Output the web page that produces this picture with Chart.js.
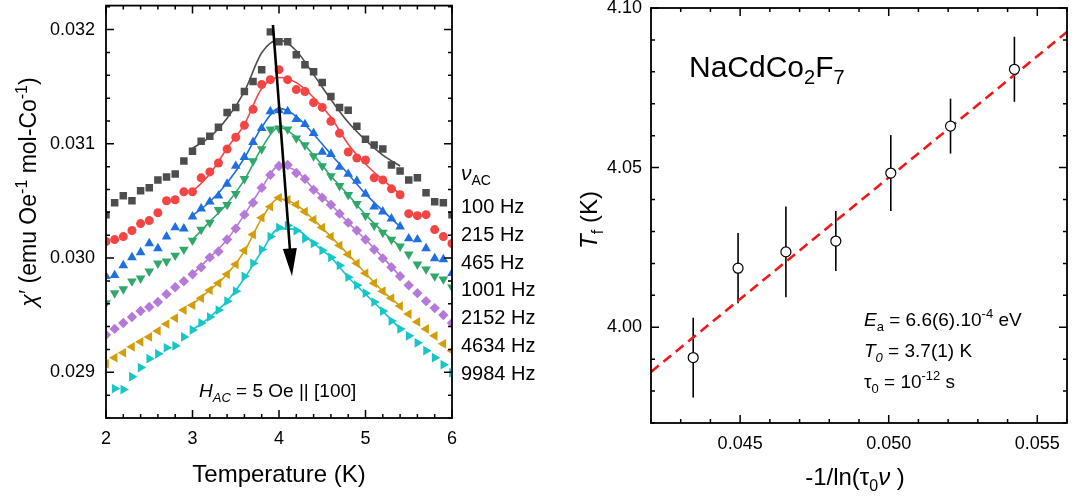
<!DOCTYPE html>
<html>
<head>
<meta charset="utf-8">
<script src="https://cdn.jsdelivr.net/npm/chart.js@4.4.1/dist/chart.umd.min.js"></script>
<style>
  body { margin: 0; background: #fff; width: 1075px; height: 497px; overflow: hidden; position: relative; }
  #left { position: absolute; left: 0; top: 0; }
  #right { position: absolute; left: 560px; top: 0; }
</style>
</head>
<body>
<canvas id="left" width="560" height="497"></canvas>
<canvas id="right" width="515" height="497"></canvas>
<script>
// ---- left panel: chi' vs T for each frequency ----
var temps = [2.0,2.1,2.2,2.3,2.4,2.5,2.6,2.7,2.8,2.9,3.0,3.1,3.2,3.3,3.4,3.5,3.6,3.7,3.8,3.9,4.0,
             4.1,4.2,4.3,4.4,4.5,4.6,4.7,4.8,4.9,5.0,5.1,5.2,5.3,5.4,5.5,5.6,5.7,5.8,5.9,6.0];

var chi100 = [0.030380,0.030484,0.030545,0.030502,0.030589,0.030615,0.030684,0.030710,0.030736,0.030849,0.030936,
              0.031023,0.031067,0.031145,0.031275,0.031319,0.031458,0.031545,0.031649,0.031980,0.031893,
              0.031893,0.031780,0.031693,0.031632,0.031536,0.031415,0.031319,0.031293,0.031154,0.031041,
              0.030989,0.030954,0.030815,0.030762,0.030684,0.030702,0.030571,0.030493,0.030484,0.030380];
var chi215 = [0.030145,0.030162,0.030188,0.030241,0.030302,0.030328,0.030397,0.030502,0.030510,0.030580,0.030580,
              0.030702,0.030754,0.030832,0.030954,0.031058,0.031162,0.031302,0.031519,0.031562,0.031649,
              0.031562,0.031475,0.031458,0.031362,0.031319,0.031197,0.031093,0.030928,0.030876,0.030858,
              0.030702,0.030684,0.030606,0.030554,0.030389,0.030371,0.030380,0.030249,0.030188,0.030128];
var chi465 = [0.029841,0.029849,0.029936,0.030006,0.030049,0.030128,0.030084,0.030188,0.030267,0.030258,0.030362,
              0.030432,0.030493,0.030545,0.030649,0.030806,0.030884,0.031015,0.031136,0.031284,0.031293,
              0.031284,0.031215,0.031171,0.031093,0.030928,0.030910,0.030797,0.030736,0.030675,0.030562,
              0.030449,0.030406,0.030345,0.030275,0.030171,0.030162,0.030084,0.029997,0.029988,0.029867];
var chi1001 = [0.029606,0.029693,0.029728,0.029797,0.029823,0.029884,0.029954,0.029971,0.030023,0.030075,0.030154,
               0.030249,0.030310,0.030423,0.030467,0.030562,0.030693,0.030849,0.030954,0.031128,0.031136,
               0.031128,0.031049,0.030989,0.030893,0.030806,0.030719,0.030632,0.030554,0.030475,0.030371,
               0.030284,0.030223,0.030162,0.030102,0.030032,0.029945,0.029902,0.029841,0.029815,0.029745];
var chi2152 = [0.029328,0.029380,0.029432,0.029484,0.029536,0.029571,0.029615,0.029684,0.029745,0.029797,0.029858,
               0.029919,0.030006,0.030058,0.030162,0.030258,0.030380,0.030484,0.030615,0.030728,0.030806,
               0.030815,0.030745,0.030693,0.030597,0.030528,0.030467,0.030389,0.030310,0.030241,0.030162,
               0.030075,0.029997,0.029919,0.029841,0.029762,0.029693,0.029623,0.029562,0.029502,0.029432];
var chi4634 = [0.029075,0.029128,0.029171,0.029223,0.029267,0.029310,0.029362,0.029423,0.029475,0.029545,0.029588,
               0.029649,0.029719,0.029780,0.029858,0.029945,0.030067,0.030206,0.030354,0.030449,0.030528,
               0.030510,0.030467,0.030406,0.030336,0.030267,0.030188,0.030110,0.030032,0.029954,0.029867,
               0.029780,0.029710,0.029649,0.029580,0.029510,0.029441,0.029380,0.029319,0.029249,0.029189];
var chi9984 = [null,0.028858,0.028849,0.028962,0.029041,0.029119,0.029162,0.029215,0.029232,0.029310,0.029371,
               0.029432,0.029484,0.029545,0.029623,0.029710,0.029841,0.029954,0.030075,0.030188,0.030267,
               0.030284,0.030241,0.030171,0.030128,0.030067,0.030006,0.029936,0.029832,0.029762,0.029693,
               0.029615,0.029536,0.029449,0.029380,0.029319,0.029258,0.029189,0.029128,0.029067,0.028997];

// fitted curves
var fitTemps = [3.0,3.2,3.4,3.6,3.8,4.0,4.2,4.4,4.6,4.8,5.0,5.2,5.4];
var fit100  = [0.030962,0.031058,0.031223,0.031458,0.031797,0.031910,0.031815,0.031606,0.031388,0.031188,0.031032,0.030902,0.030806];
var fit215  = [0.030580,0.030736,0.030962,0.031171,0.031484,0.031580,0.031536,0.031406,0.031232,0.030997,0.030823,0.030684,0.030562];
var fit465  = [0.030371,0.030493,0.030658,0.030876,0.031145,0.031310,0.031241,0.031084,0.030910,0.030736,0.030562,0.030415,0.030275];
var fit1001 = [0.030162,0.030319,0.030475,0.030684,0.030962,0.031145,0.031058,0.030902,0.030719,0.030554,0.030380,0.030232,0.030102];
var fit2152 = [0.029858,0.030006,0.030162,0.030380,0.030615,0.030806,0.030762,0.030606,0.030467,0.030310,0.030162,0.030006,0.029841];
var fit4634 = [0.029597,0.029719,0.029858,0.030058,0.030345,0.030519,0.030467,0.030336,0.030188,0.030032,0.029867,0.029710,0.029580];
var fit9984 = [0.029371,0.029484,0.029623,0.029823,0.030058,0.030258,0.030249,0.030128,0.030006,0.029832,0.029684,0.029536,0.029380];

var freqLabels = ['100 Hz', '215 Hz', '465 Hz', '1001 Hz', '2152 Hz', '4634 Hz', '9984 Hz'];
var xTicksLeft = [2, 3, 4, 5, 6];
var yTicksLeft = [0.029, 0.030, 0.031, 0.032];
var arrowFrom = [3.93, 0.03204];
var arrowTo = [4.15, 0.02984];

// ---- right panel: Tf vs -1/ln(tau0 nu) ----
var invLn = [0.04342, 0.04493, 0.04654, 0.04822, 0.05007, 0.05208, 0.05423];
var tf = [3.9905, 4.0185, 4.0236, 4.0270, 4.0483, 4.0630, 4.0808];
var tfErr = [0.0125, 0.0110, 0.0142, 0.0094, 0.0119, 0.0086, 0.0102];
var fitInvLn = [0.042, 0.056];
var fitTf = [3.986, 4.0925];
var xTicksRight = [0.045, 0.050, 0.055];
var yTicksRight = [4.00, 4.05, 4.10];

var FONT = "'Liberation Sans', 'DejaVu Sans', Arial, sans-serif";
Chart.defaults.font.family = FONT;
Chart.defaults.color = '#000';

var colors = ['#4d4d4d', '#f44545', '#1f6fe0', '#2fa86a', '#b57ad9', '#d29e0c', '#17c6c9'];
var markers = [['rect', 0, 5.3], ['circle', 0, 4.5], ['triangle', 0, 5.6], ['triangle', 180, 5.6],
               ['rectRot', 0, 5.2], ['triangle', 270, 5.6], ['triangle', 90, 5.6]];

// text with italic / sub / sup pieces: flags 'i' italic, 'b' subscript, 'p' superscript
function rich(ctx, parts, x, y, size, align) {
  var segs = parts.map(function (p) {
    var f = p[1] || '';
    var small = f.indexOf('b') >= 0 || f.indexOf('p') >= 0;
    var s = small ? Math.round(size * 0.68) : size;
    var font = (f.indexOf('i') >= 0 ? 'italic ' : '') + s + 'px ' + FONT;
    ctx.font = font;
    return { t: p[0], font: font, w: ctx.measureText(p[0]).width,
             dy: f.indexOf('b') >= 0 ? size * 0.24 : (f.indexOf('p') >= 0 ? -size * 0.4 : 0) };
  });
  var total = segs.reduce(function (a, s) { return a + s.w; }, 0);
  var cx = align === 'center' ? x - total / 2 : x;
  ctx.textAlign = 'left';
  ctx.textBaseline = 'alphabetic';
  ctx.fillStyle = '#000';
  segs.forEach(function (s) {
    ctx.font = s.font;
    ctx.fillText(s.t, cx, y + s.dy);
    cx += s.w;
  });
}

function tickSet(scale, step) {
  var out = [];
  var k0 = Math.ceil(scale.min / step - 1e-6), k1 = Math.floor(scale.max / step + 1e-6);
  for (var k = k0; k <= k1; k++) {
    var v = k * step;
    var major = scale.ticks.some(function (t) { return Math.abs(t.value - v) < step / 10; });
    out.push({ p: scale.getPixelForValue(v), major: major });
  }
  return out;
}

// frame with inward ticks on all four sides
var boxTicks = {
  id: 'boxTicks',
  afterDatasetsDraw: function (chart, args, opts) {
    var ctx = chart.ctx, a = chart.chartArea;
    ctx.save();
    ctx.strokeStyle = '#000';
    ctx.lineWidth = 1.5;
    ctx.beginPath();
    tickSet(chart.scales.x, opts.minorX).forEach(function (t) {
      var len = t.major ? 8 : 4;
      ctx.moveTo(t.p, a.bottom); ctx.lineTo(t.p, a.bottom - len);
      ctx.moveTo(t.p, a.top); ctx.lineTo(t.p, a.top + len);
    });
    tickSet(chart.scales.y, opts.minorY).forEach(function (t) {
      var len = t.major ? 8 : 4;
      ctx.moveTo(a.left, t.p); ctx.lineTo(a.left + len, t.p);
      ctx.moveTo(a.right, t.p); ctx.lineTo(a.right - len, t.p);
    });
    ctx.stroke();
    ctx.lineWidth = 1.8;
    ctx.strokeRect(a.left, a.top, a.right - a.left, a.bottom - a.top);
    ctx.restore();
  }
};

var leftText = {
  id: 'leftText',
  afterDatasetsDraw: function (chart) {
    var ctx = chart.ctx, sx = chart.scales.x, sy = chart.scales.y;
    var x0 = sx.getPixelForValue(arrowFrom[0]), y0 = sy.getPixelForValue(arrowFrom[1]);
    var x1 = sx.getPixelForValue(arrowTo[0]), y1 = sy.getPixelForValue(arrowTo[1]);
    var dx = x1 - x0, dy = y1 - y0, L = Math.sqrt(dx * dx + dy * dy);
    var ux = dx / L, uy = dy / L, hl = 28, hw = 7;
    var bx = x1 - ux * hl, by = y1 - uy * hl;
    ctx.save();
    ctx.strokeStyle = '#000';
    ctx.lineWidth = 2.6;
    ctx.beginPath(); ctx.moveTo(x0, y0); ctx.lineTo(bx + ux * 2, by + uy * 2); ctx.stroke();
    ctx.fillStyle = '#000';
    ctx.beginPath();
    ctx.moveTo(x1, y1);
    ctx.lineTo(bx - uy * hw, by + ux * hw);
    ctx.lineTo(bx + uy * hw, by - ux * hw);
    ctx.closePath(); ctx.fill();
    ctx.restore();
  },
  afterDraw: function (chart) {
    var ctx = chart.ctx;
    ctx.save();
    ctx.translate(36, 192);
    ctx.rotate(-Math.PI / 2);
    rich(ctx, [['χ', 'i'], ['′ (emu Oe'], ['-1', 'p'], [' mol-Co'], ['-1', 'p'], [')']], 0, 0, 23, 'center');
    ctx.restore();
    rich(ctx, [['Temperature (K)']], 279, 482, 24, 'center');
    rich(ctx, [['H', 'i'], ['AC', 'ib'], [' = 5 Oe || [100]']], 199, 397, 19, 'left');
    rich(ctx, [['ν', 'i'], ['AC', 'b']], 461, 180, 21, 'left');
    freqLabels.forEach(function (s, i) {
      rich(ctx, [[s]], 461, 213 + i * 27.8, 20, 'left');
    });
  }
};

var rightText = {
  id: 'rightText',
  afterDraw: function (chart) {
    var ctx = chart.ctx;
    ctx.save();
    ctx.translate(37, 220);
    ctx.rotate(-Math.PI / 2);
    rich(ctx, [['T', 'i'], ['f', 'b'], [' (K)']], 0, 0, 24, 'center');
    ctx.restore();
    rich(ctx, [['-1/ln('], ['τ'], ['0', 'b'], ['ν', 'i'], [' )']], 295, 485, 24, 'center');
    rich(ctx, [['NaCdCo'], ['2', 'b'], ['F'], ['7', 'b']], 129, 77, 30, 'left');
    rich(ctx, [['E', 'i'], ['a', 'b'], [' = 6.6(6).10'], ['-4', 'p'], [' eV']], 304, 326, 19, 'left');
    rich(ctx, [['T', 'i'], ['0', 'ib'], [' = 3.7(1) K']], 304, 357, 19, 'left');
    rich(ctx, [['τ'], ['0', 'b'], [' = 10'], ['-12', 'p'], [' s']], 304, 388, 19, 'left');
  }
};

function pts(xs, ys) {
  var out = [];
  xs.forEach(function (x, i) { if (ys[i] != null) out.push({ x: x, y: ys[i] }); });
  return out;
}

var leftSeries = [chi100, chi215, chi465, chi1001, chi2152, chi4634, chi9984];
var leftFits = [fit100, fit215, fit465, fit1001, fit2152, fit4634, fit9984];
var leftSets = [];
leftSeries.forEach(function (ser, i) {
  leftSets.push({
    label: freqLabels[i],
    data: pts(temps, ser),
    pointStyle: markers[i][0],
    pointRotation: markers[i][1],
    pointRadius: markers[i][2],
    pointBackgroundColor: colors[i],
    pointBorderWidth: 0,
    order: 2
  });
  leftSets.push({
    label: freqLabels[i] + ' fit',
    data: pts(fitTemps, leftFits[i]),
    showLine: true,
    borderColor: colors[i],
    borderWidth: 1.6,
    pointRadius: 0,
    cubicInterpolationMode: 'monotone',
    order: 1
  });
});

function axis(min, max, ticks, digits, size, pad) {
  return {
    type: 'linear', min: min, max: max,
    grid: { display: false, drawTicks: false },
    border: { display: false },
    afterBuildTicks: function (s) { s.ticks = ticks.map(function (v) { return { value: v }; }); },
    afterFit: function (s) {
      if (s.isHorizontal()) s.height = size; else s.width = size;
      s.paddingTop = 0; s.paddingBottom = 0; s.paddingLeft = 0; s.paddingRight = 0;
    },
    ticks: {
      autoSkip: false, maxRotation: 0, padding: pad, font: { size: 18 }, color: '#000',
      callback: function (v) { return digits ? Number(v).toFixed(digits) : String(v); }
    }
  };
}

new Chart(document.getElementById('left'), {
  type: 'scatter',
  data: { datasets: leftSets },
  options: {
    responsive: false,
    animation: false,
    layout: { padding: { top: 3, right: 108, left: 0, bottom: 0 } },
    plugins: { legend: { display: false }, tooltip: { enabled: false },
               boxTicks: { minorX: 0.2, minorY: 0.0002 } },
    scales: {
      x: axis(2, 6, xTicksLeft, 0, 79, 10),
      y: axis(0.0286, 0.03221, yTicksLeft, 3, 106, 11)
    }
  },
  plugins: [boxTicks, leftText]
});

var rightSets = [];
invLn.forEach(function (x, i) {
  rightSets.push({
    data: [{ x: x, y: tf[i] - tfErr[i] }, { x: x, y: tf[i] + tfErr[i] }],
    showLine: true, borderColor: '#000', borderWidth: 1.6, pointRadius: 0, order: 3
  });
});
rightSets.push({
  data: pts(fitInvLn, fitTf),
  showLine: true, borderColor: '#f01818', borderWidth: 2.6, borderDash: [10, 6],
  pointRadius: 0, order: 2
});
rightSets.push({
  data: pts(invLn, tf),
  pointStyle: 'circle', pointRadius: 5, pointBackgroundColor: '#fff',
  pointBorderColor: '#000', pointBorderWidth: 1.2, order: 1
});

new Chart(document.getElementById('right'), {
  type: 'scatter',
  data: { datasets: rightSets },
  options: {
    responsive: false,
    animation: false,
    layout: { padding: { top: 8, right: 8, left: 0, bottom: 0 } },
    plugins: { legend: { display: false }, tooltip: { enabled: false },
               boxTicks: { minorX: 0.001, minorY: 0.01 } },
    scales: {
      x: axis(0.042, 0.056, xTicksRight, 3, 74, 10),
      y: axis(3.97, 4.10, yTicksRight, 2, 91, 9)
    }
  },
  plugins: [boxTicks, rightText]
});
</script>
</body>
</html>
